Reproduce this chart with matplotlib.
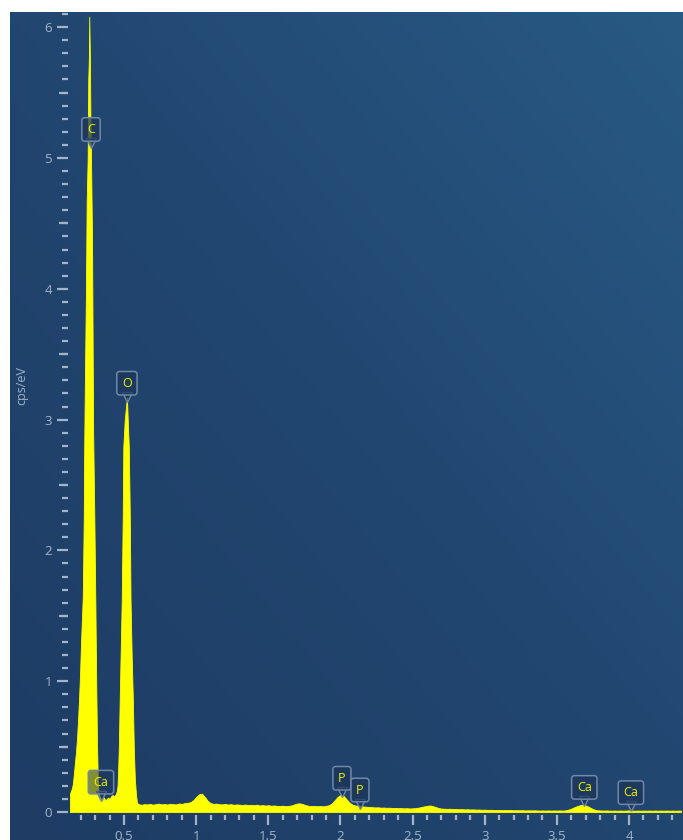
import numpy as np
import matplotlib
matplotlib.use("Agg")
import matplotlib.pyplot as plt
from matplotlib.colors import LinearSegmentedColormap
from matplotlib.transforms import offset_copy

plt.rcParams['font.family'] = ['Open Sans', 'DejaVu Sans']

# spectrum: low energy part with the C and O peaks (keV, cps/eV)
low_energy = [0.125, 0.132, 0.139, 0.146, 0.153, 0.160, 0.167, 0.174, 0.181, 0.188,
              0.195, 0.202, 0.209, 0.214, 0.221, 0.224, 0.229, 0.236, 0.241, 0.248,
              0.252, 0.256, 0.259, 0.263, 0.267, 0.271, 0.278, 0.282, 0.286, 0.294,
              0.301, 0.307, 0.313, 0.318, 0.323, 0.330, 0.340, 0.350, 0.360, 0.370,
              0.380, 0.390, 0.400, 0.410, 0.420, 0.430, 0.440, 0.450, 0.455, 0.460,
              0.464, 0.470, 0.477, 0.484, 0.491, 0.495, 0.505, 0.514, 0.520, 0.524,
              0.529, 0.533, 0.540, 0.545, 0.552, 0.561, 0.568, 0.575, 0.583, 0.590]
low_cps = [0.14, 0.16, 0.18, 0.22, 0.30, 0.38, 0.46, 0.56, 0.70, 0.86,
           1.05, 1.30, 1.50, 1.65, 2.26, 2.79, 3.33, 3.99, 4.66, 5.00,
           5.60, 5.75, 6.08, 5.80, 5.30, 5.00, 4.40, 3.65, 2.89, 2.26,
           1.62, 1.00, 0.50, 0.25, 0.15, 0.12, 0.10, 0.09, 0.11, 0.09,
           0.10, 0.11, 0.10, 0.12, 0.13, 0.12, 0.13, 0.16, 0.20, 0.35,
           0.50, 0.86, 1.24, 1.62, 2.26, 2.79, 3.00, 3.10, 3.17, 3.05,
           2.90, 2.79, 2.26, 1.62, 1.24, 0.86, 0.47, 0.25, 0.13, 0.07]

# rest of the spectrum, 0.60 to 4.36 keV every 0.02 keV
bg_energy = np.round(np.arange(0.60, 4.37, 0.02), 2)
bg_cps = [0.060, 0.055, 0.060, 0.058, 0.062, 0.056, 0.060, 0.064, 0.058, 0.061,
          0.057, 0.063, 0.060, 0.058, 0.065, 0.062, 0.068, 0.070, 0.075, 0.090,
          0.115, 0.135, 0.140, 0.115, 0.085, 0.068, 0.062, 0.064, 0.060, 0.058,
          0.062, 0.057, 0.060, 0.055, 0.058, 0.056, 0.054, 0.057, 0.053, 0.055,
          0.052, 0.056, 0.050, 0.053, 0.049, 0.052, 0.048, 0.050, 0.047, 0.046,
          0.048, 0.045, 0.047, 0.050, 0.058, 0.065, 0.066, 0.060, 0.052, 0.047,
          0.045, 0.047, 0.044, 0.046, 0.043, 0.047, 0.052, 0.065, 0.090, 0.115,
          0.130, 0.125, 0.100, 0.075, 0.058, 0.050, 0.048, 0.045, 0.042, 0.040,
          0.038, 0.037, 0.035, 0.036, 0.033, 0.034, 0.032, 0.033, 0.030, 0.031,
          0.029, 0.030, 0.028, 0.029, 0.027, 0.028, 0.030, 0.033, 0.038, 0.043,
          0.047, 0.050, 0.045, 0.038, 0.030, 0.026, 0.025, 0.024, 0.025, 0.022,
          0.023, 0.021, 0.022, 0.020, 0.021, 0.019, 0.020, 0.018, 0.019, 0.017,
          0.018, 0.016, 0.017, 0.016, 0.015, 0.016, 0.014, 0.015, 0.014, 0.015,
          0.013, 0.014, 0.013, 0.014, 0.012, 0.013, 0.012, 0.013, 0.012, 0.011,
          0.012, 0.011, 0.012, 0.011, 0.012, 0.011, 0.012, 0.011, 0.013, 0.018,
          0.026, 0.036, 0.045, 0.052, 0.055, 0.050, 0.040, 0.028, 0.018, 0.013,
          0.012, 0.011, 0.012, 0.011, 0.010, 0.011, 0.010, 0.011, 0.010, 0.011,
          0.012, 0.011, 0.010, 0.011, 0.010, 0.011, 0.010, 0.011, 0.010, 0.011,
          0.010, 0.011, 0.010, 0.011, 0.010, 0.011, 0.010, 0.011, 0.010]

# element markers: name, energy, height of the marker tip
labels = ['C', 'O', 'Ca', 'P', 'P', 'Ca', 'Ca']
label_energy = [0.271, 0.520, 0.340, 2.010, 2.135, 3.690, 4.013]
label_cps = [5.08, 3.14, 0.09, 0.12, 0.03, 0.05, 0.01]
label_over_peak = [False, False, True, False, False, False, False]

energy = np.concatenate([low_energy, bg_energy])
cps = np.concatenate([low_cps, bg_cps])

W, H = 683, 840
fig = plt.figure(figsize=(W / 100, H / 100), dpi=100, facecolor='white')

# gradient background panel
bg = fig.add_axes([10 / W, 0, 673 / W, 828 / H])
bg.axis('off')
yy, xx = np.mgrid[0:1:200j, 0:1:200j]
grad = (xx + (1 - yy)) / 2
cmap = LinearSegmentedColormap.from_list('bg', ['#1e3c64', '#214670', '#285a84'])
bg.imshow(grad, cmap=cmap, aspect='auto', extent=[0, 1, 0, 1], origin='upper')

ax = fig.add_axes([68 / W, 25 / H, 615 / W, 803 / H])
ax.set_facecolor('none')
ax.fill_between(energy, cps, 0, color='#ffff00', linewidth=0.6, edgecolor='#ffff00')
ax.set_xlim(0.1116, 4.374)
ax.set_ylim(-0.023, 6.116)

for s in ax.spines.values():
    s.set_visible(False)

tick_col = '#a3b4c8'
ax.set_xticks([0.5, 1, 1.5, 2, 2.5, 3, 3.5, 4])
ax.set_xticklabels(['0.5', '1', '1.5', '2', '2.5', '3', '3.5', '4'])
ax.set_xticks(np.arange(0.2, 4.4, 0.1), minor=True)
ax.set_yticks([0, 1, 2, 3, 4, 5, 6])
ax.set_yticks(np.arange(0, 6.11, 0.1), minor=True)
ax.tick_params(axis='both', which='major', colors=tick_col, labelcolor=tick_col,
               labelsize=9.5, width=1.6)
ax.tick_params(axis='x', which='major', length=7, pad=3.5)
ax.tick_params(axis='y', which='major', length=8, pad=3.5)
ax.tick_params(axis='x', which='minor', length=3.6, width=1.6, colors=tick_col)
ax.tick_params(axis='y', which='minor', length=4.2, width=1.6, colors=tick_col)

# half-unit y ticks are a bit longer
sec = ax.secondary_yaxis('left')
sec.set_yticks(np.arange(0.5, 6.1, 1.0))
sec.set_yticklabels([])
sec.tick_params(length=6.3, width=1.6, colors=tick_col)
for s in sec.spines.values():
    s.set_visible(False)

ax.set_ylabel('cps/eV', color=tick_col, fontsize=9)
ax.yaxis.set_label_coords(-0.064, 0.535)

edge = '#6f88a6'
tri_tr = offset_copy(ax.transData, fig=fig, x=0, y=3.2, units='points')
for name, x, y, over in zip(labels, label_energy, label_cps, label_over_peak):
    face = (0.11, 0.21, 0.36, 0.55) if over else (0.11, 0.21, 0.36, 0.75)
    ax.plot(x, y, marker='v', markersize=6.5, markerfacecolor=face, transform=tri_tr,
            markeredgecolor=edge, markeredgewidth=1.0, zorder=4, clip_on=False)
    ax.annotate(name, xy=(x, y), xytext=(0, 13), textcoords='offset points',
                ha='center', va='center', fontsize=9, color='#f2f200', zorder=5,
                bbox=dict(boxstyle='round,pad=0.42,rounding_size=0.22', fc=face,
                          ec=edge, lw=1.1))

fig.savefig('out.png', dpi=100, facecolor='white')
